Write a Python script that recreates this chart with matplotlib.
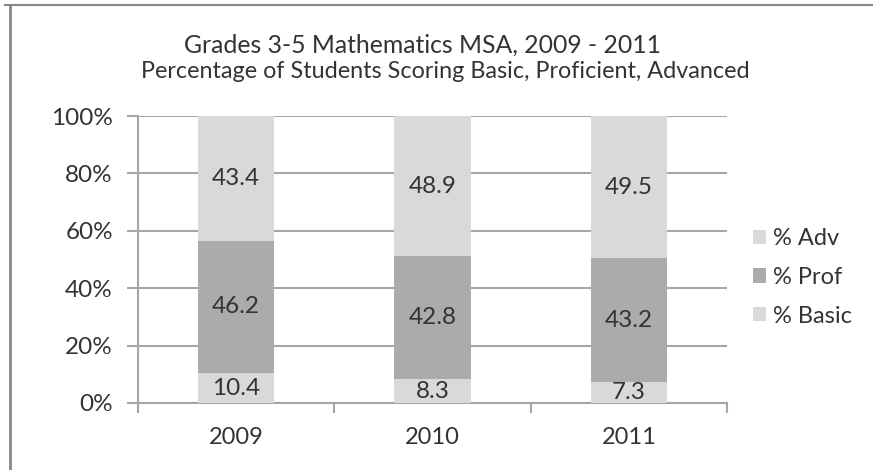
import numpy as np
import matplotlib.pyplot as plt
from matplotlib.lines import Line2D

plt.rcParams["font.family"] = ["Lato", "DejaVu Sans"]

years = ["2009", "2010", "2011"]
basic = [10.4, 8.3, 7.3]
prof = [46.2, 42.8, 43.2]
adv = [43.4, 48.9, 49.5]

text_color = "#333333"
grid_color = "#a6a6a6"

fig = plt.figure(figsize=(8.73, 4.70), dpi=100)
ax = fig.add_axes([0.158, 0.1426, 0.675, 0.6105])

x = np.arange(len(years))
width = 0.39
basic = np.array(basic)
prof = np.array(prof)
adv = np.array(adv)

b1 = ax.bar(x, basic, width, color="#d9d9d9", label="% Basic", zorder=3)
b2 = ax.bar(x, prof, width, bottom=basic, color="#ababab", label="% Prof", zorder=3)
b3 = ax.bar(x, adv, width, bottom=basic + prof, color="#d9d9d9", label="% Adv", zorder=3)

for bars, vals in [(b1, basic), (b2, prof), (b3, adv)]:
    ax.bar_label(bars, labels=[f"{v:.1f}" for v in vals], label_type="center",
                 fontsize=17.5, color=text_color)

ax.set_xlim(-0.5, 2.5)
ax.set_ylim(0, 100)
ax.set_yticks(np.arange(0, 101, 20))
ax.set_yticklabels([f"{v}%" for v in range(0, 101, 20)])
ax.set_xticks(x)
ax.set_xticklabels(years)
ax.set_xticks([-0.5, 0.5, 1.5, 2.5], minor=True)
ax.tick_params(axis="x", which="major", length=0, pad=17, labelsize=17, labelcolor=text_color)
ax.tick_params(axis="x", which="minor", length=7, width=1.5, color=grid_color, direction="out")
ax.tick_params(axis="y", length=8, width=1.5, color=grid_color, labelsize=17.5,
               labelcolor=text_color, pad=10)

ax.yaxis.grid(True, color=grid_color, linewidth=1.5, zorder=0)
ax.set_axisbelow(True)
for side in ["top", "right"]:
    ax.spines[side].set_visible(False)
for side in ["left", "bottom"]:
    ax.spines[side].set_color(grid_color)
    ax.spines[side].set_linewidth(1.5)

handles = [b3, b2, b1]
leg = fig.legend(handles, ["% Adv", "% Prof", "% Basic"], loc="center left",
                 bbox_to_anchor=(0.838, 0.41), frameon=False, fontsize=17,
                 handlelength=0.55, handleheight=0.55, handletextpad=0.3,
                 labelspacing=0.75, labelcolor=text_color)

fig.text(0.484, 0.905, "Grades 3-5 Mathematics MSA, 2009 - 2011", ha="center",
         va="center", fontsize=17.8, color=text_color)
fig.text(0.51, 0.848, "Percentage of Students Scoring Basic, Proficient, Advanced",
         ha="center", va="center", fontsize=16.8, color=text_color)

# outer frame lines
fig.add_artist(Line2D([5 / 873, 1], [1 - 5 / 470, 1 - 5 / 470], color="#888888", linewidth=1.5))
fig.add_artist(Line2D([10 / 873, 10 / 873], [0, 1 - 5 / 470], color="#888888", linewidth=2))

fig.savefig("out.png", dpi=100)
